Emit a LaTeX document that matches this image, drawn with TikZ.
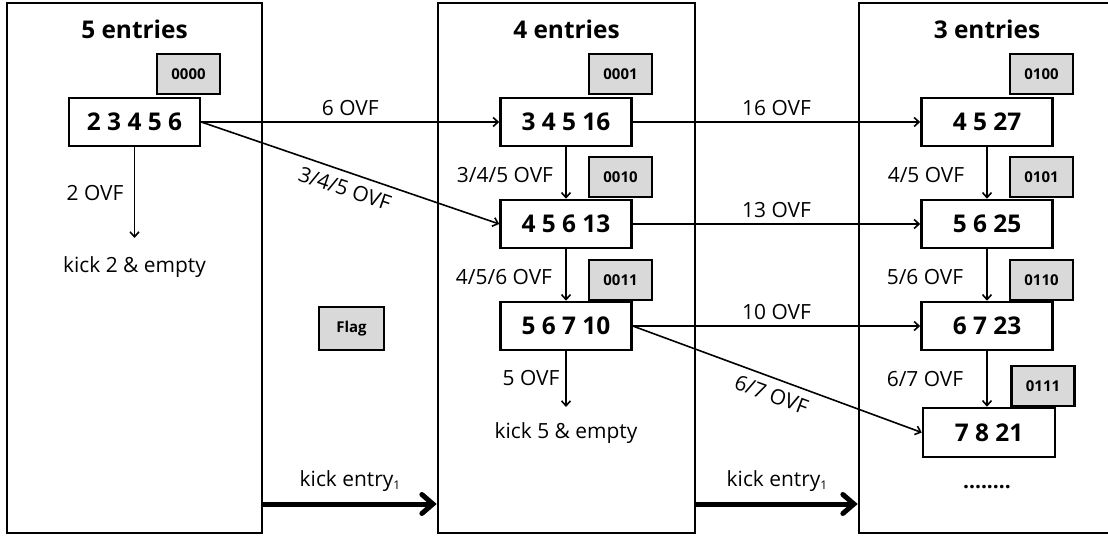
\documentclass[tikz,border=0pt]{standalone}
\usepackage{fontspec}
\setmainfont{Open Sans}
\usetikzlibrary{arrows.meta}
\begin{document}
\begin{tikzpicture}[x=1bp,y=-1bp,
  panel/.style={draw,line width=2.6bp,minimum width=#1,minimum height=530bp,inner sep=0pt},
  entrybox/.style={draw,line width=2.5bp,fill=white,minimum width=131bp,minimum height=48bp,inner sep=0pt,font=\fontsize{24.5}{28}\selectfont\bfseries},
  tagbox/.style={draw,line width=2.5bp,fill=gray!30,minimum width=63bp,minimum height=40bp,inner sep=0pt,font=\fontsize{15}{17}\selectfont\bfseries},
  lbl/.style={font=\fontsize{21}{25}\selectfont,inner sep=2bp},
  title/.style={font=\fontsize{24.5}{28}\selectfont\bfseries,anchor=base},
  conn/.style={-{Straight Barb[length=5bp,width=9bp]},line width=1.6bp},
  kick/.style={-{Straight Barb[length=11bp,width=19bp,line cap=round]},line width=5bp},
]
\useasboundingbox (0,0) rectangle (1108,536);
% panels
\node[panel=255bp] (PA) at (134.5,268) {};
\node[panel=257bp] (PB) at (566.5,268) {};
\node[panel=252bp] (PC) at (985,268) {};
% titles
\node[title] (TA) at (134.5,39) {5 entries};
\node[title] (TB) at (566.5,39) {4 entries};
\node[title] (TC) at (987,39) {3 entries};
% tags
\node[tagbox] (tA1) at (188.5,74) {0000};
\node[tagbox] (tB1) at (620.5,74) {0001};
\node[tagbox] (tB2) at (620.5,177) {0010};
\node[tagbox] (tB3) at (620.5,280) {0011};
\node[tagbox] (tC1) at (1041.5,74) {0100};
\node[tagbox] (tC2) at (1041.5,177) {0101};
\node[tagbox] (tC3) at (1041.5,280) {0110};
\node[tagbox] (tC4) at (1043,386) {0111};
\node[tagbox,minimum width=65bp,minimum height=43bp] (flag) at (351.5,328.5) {Flag};
% entries
\node[entrybox] (A1) at (134.5,122) {2 3 4 5 6};
\node[entrybox] (B1) at (566,122) {3 4 5 16};
\node[entrybox] (B2) at (566,224) {4 5 6 13};
\node[entrybox] (B3) at (566,326) {5 6 7 10};
\node[entrybox] (C1) at (987,122) {4 5 27};
\node[entrybox] (C2) at (987,224) {5 6 25};
\node[entrybox] (C3) at (987,326) {6 7 23};
\node[entrybox,minimum width=132bp,minimum height=49bp] (C4) at (989,432.5) {7 8 21};
\node[font=\fontsize{21}{25}\selectfont\bfseries] (dots) at (987,487) {........};
% kick texts
\node[lbl] (kA) at (134.5,267) {kick 2 \& empty};
\node[lbl] (kB) at (566,433) {kick 5 \& empty};
\coordinate (eA) at (134.5,238);
\coordinate (eB) at (566,407);
% side labels
\node[lbl] (lA) at (95,193) {2 OVF};
\node[lbl] (lB1) at (505,175) {3/4/5 OVF};
\node[lbl] (lB2) at (504,277) {4/5/6 OVF};
\node[lbl] (lB3) at (531,378) {5 OVF};
\node[lbl] (lC1) at (926,175) {4/5 OVF};
\node[lbl] (lC2) at (925,277) {5/6 OVF};
\node[lbl] (lC3) at (925,379) {6/7 OVF};
% connectors
\draw[conn] (A1.east) -- node[lbl,above=3bp]{6 OVF} (B1.west);
\draw[conn] (A1.east) -- node[lbl,sloped,below=6bp]{3/4/5 OVF} (B2.west);
\draw[conn] (A1.south) -- (eA);
\draw[conn] (B1) -- (B2);
\draw[conn] (B2) -- (B3);
\draw[conn] (B3.south) -- (eB);
\draw[conn] (B1.east) -- node[lbl,above=3bp]{16 OVF} (C1.west);
\draw[conn] (B2.east) -- node[lbl,above=3bp]{13 OVF} (C2.west);
\draw[conn] (B3.east) -- node[lbl,above=3bp]{10 OVF} (C3.west);
\draw[conn] (B3.east) -- node[lbl,sloped,below=6bp]{6/7 OVF} (C4.west);
\draw[conn] (C1) -- (C2);
\draw[conn] (C2) -- (C3);
\draw[conn] (C3.south) -- (C3.south |- C4.north);
% kick arrows
\coordinate (ky) at (0,504);
\draw[kick] (PA.east |- ky) -- node[lbl,above=8bp]{kick entry{\fontsize{12}{14}\selectfont\raisebox{-3bp}{1}}} (PB.west |- ky);
\draw[kick] (PB.east |- ky) -- node[lbl,above=8bp]{kick entry{\fontsize{12}{14}\selectfont\raisebox{-3bp}{1}}} (PC.west |- ky);
\end{tikzpicture}
\end{document}
